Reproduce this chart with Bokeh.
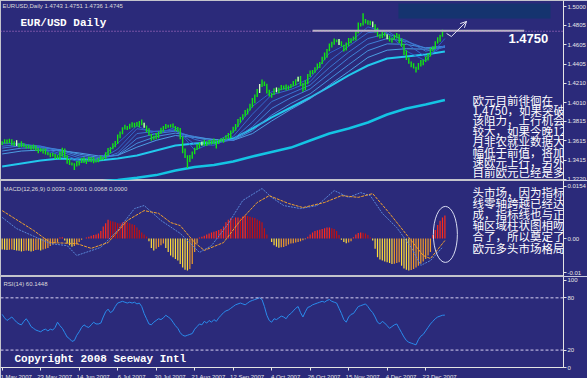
from bokeh.plotting import figure
from bokeh.layouts import column
from bokeh.models import Range1d, FixedTicker, LinearAxis, Label, Span, Arrow, OpenHead
from bokeh.embed import file_html
from bokeh.resources import INLINE

# ---------------- data ----------------
date_ticks = [0, 16, 32, 48, 64, 80, 96, 112, 128, 144, 160, 176]
date_labels = ["1 May 2007", "23 May 2007", "14 Jun 2007", "6 Jul 2007", "30 Jul 2007",
               "21 Aug 2007", "12 Sep 2007", "4 Oct 2007", "26 Oct 2007", "15 Nov 2007",
               "4 Dec 2007", "23 Dec 2007"]

high = [1.3612,1.3632,1.3628,1.3637,1.3631,1.3612,1.3620,1.3591,1.3610,1.3591,
        1.3574,1.3574,1.3569,1.3578,1.3566,1.3542,1.3540,1.3536,1.3535,1.3501,
        1.3489,1.3492,1.3479,1.3468,1.3506,1.3545,1.3536,1.3466,1.3430,1.3392,
        1.3384,1.3407,1.3409,1.3438,1.3446,1.3424,1.3450,1.3446,1.3445,1.3423,
        1.3439,1.3462,1.3452,1.3498,1.3542,1.3552,1.3590,1.3614,1.3680,1.3711,
        1.3756,1.3782,1.3769,1.3791,1.3806,1.3802,1.3810,1.3820,1.3834,1.3801,
        1.3774,1.3744,1.3689,1.3668,1.3696,1.3712,1.3750,1.3769,1.3790,1.3781,
        1.3787,1.3795,1.3769,1.3758,1.3748,1.3662,1.3536,1.3466,1.3470,1.3506,
        1.3544,1.3582,1.3597,1.3606,1.3626,1.3612,1.3625,1.3621,1.3640,1.3621,
        1.3629,1.3641,1.3649,1.3673,1.3696,1.3722,1.3760,1.3789,1.3840,1.3861,
        1.3890,1.3932,1.3949,1.3997,1.4056,1.4092,1.4150,1.4202,1.4247,1.4228,
        1.4204,1.4142,1.4109,1.4158,1.4166,1.4162,1.4190,1.4186,1.4195,1.4186,
        1.4200,1.4232,1.4249,1.4276,1.4284,1.4212,1.4240,1.4305,1.4340,1.4346,
        1.4375,1.4412,1.4429,1.4482,1.4526,1.4562,1.4618,1.4636,1.4670,1.4661,
        1.4664,1.4642,1.4607,1.4628,1.4676,1.4672,1.4690,1.4756,1.4834,1.4831,
        1.4930,1.4872,1.4859,1.4853,1.4846,1.4816,1.4780,1.4717,1.4750,1.4731,
        1.4715,1.4702,1.4679,1.4708,1.4727,1.4713,1.4670,1.4614,1.4550,1.4475,
        1.4434,1.4414,1.4379,1.4418,1.4449,1.4452,1.4484,1.4516,1.4576,1.4591,
        1.4643,1.4682,1.4710,1.4761,1.4751]

low = [1.3573,1.3588,1.3586,1.3592,1.3571,1.3562,1.3563,1.3546,1.3552,1.3551,
       1.3535,1.3537,1.3523,1.3527,1.3511,1.3488,1.3504,1.3484,1.3475,1.3466,
       1.3447,1.3454,1.3426,1.3430,1.3424,1.3452,1.3438,1.3379,1.3366,1.3361,
       1.3315,1.3351,1.3361,1.3387,1.3386,1.3377,1.3400,1.3394,1.3385,1.3391,
       1.3395,1.3415,1.3416,1.3430,1.3461,1.3488,1.3528,1.3549,1.3583,1.3641,
       1.3683,1.3732,1.3726,1.3737,1.3754,1.3752,1.3763,1.3754,1.3775,1.3751,
       1.3705,1.3670,1.3615,1.3626,1.3631,1.3642,1.3688,1.3709,1.3738,1.3751,
       1.3753,1.3750,1.3716,1.3709,1.3631,1.3488,1.3438,1.3335,1.3397,1.3431,
       1.3478,1.3520,1.3536,1.3567,1.3561,1.3562,1.3578,1.3577,1.3583,1.3535,
       1.3583,1.3605,1.3595,1.3627,1.3636,1.3642,1.3698,1.3719,1.3758,1.3801,
       1.3833,1.3866,1.3886,1.3927,1.3960,1.4002,1.4068,1.4109,1.4171,1.4181,
       1.4103,1.4073,1.4059,1.4087,1.4115,1.4106,1.4138,1.4144,1.4135,1.4141,
       1.4158,1.4176,1.4186,1.4227,1.4181,1.4122,1.4138,1.4199,1.4274,1.4301,
       1.4318,1.4351,1.4366,1.4407,1.4445,1.4472,1.4538,1.4577,1.4605,1.4631,
       1.4603,1.4588,1.4536,1.4547,1.4591,1.4622,1.4648,1.4649,1.4725,1.4795,
       1.4803,1.4825,1.4811,1.4807,1.4785,1.4732,1.4689,1.4669,1.4675,1.4692,
       1.4663,1.4640,1.4626,1.4657,1.4671,1.4622,1.4586,1.4499,1.4449,1.4411,
       1.4375,1.4360,1.4320,1.4348,1.4381,1.4395,1.4428,1.4443,1.4485,1.4537,
       1.4563,1.4619,1.4636,1.4688,1.4736]

bars = list(range(len(high)))
white_bars = [6, 59, 83, 107, 114, 123, 140, 154, 160]

ma_idx = [0, 8, 16, 24, 32, 40, 48, 56, 64, 72, 80, 88, 96, 104, 112, 120, 128, 136, 144, 152, 160, 168, 176, 184]
ribbon_1 = [1.3595,1.3582,1.3528,1.3470,1.3395,1.3418,1.3590,1.3770,1.3680,1.3755,1.3520,1.3600,1.3700,1.3970,1.4120,1.4170,1.4260,1.4520,1.4620,1.4790,1.4730,1.4540,1.4440,1.4670]
ribbon_2 = [1.3585,1.3590,1.3545,1.3485,1.3415,1.3412,1.3530,1.3740,1.3710,1.3730,1.3580,1.3570,1.3660,1.3890,1.4090,1.4145,1.4225,1.4440,1.4590,1.4730,1.4750,1.4620,1.4480,1.4600]
ribbon_3 = [1.3560,1.3580,1.3560,1.3505,1.3440,1.3420,1.3490,1.3690,1.3715,1.3720,1.3630,1.3585,1.3630,1.3810,1.4020,1.4105,1.4190,1.4370,1.4530,1.4670,1.4720,1.4650,1.4540,1.4580]
ribbon_4 = [1.3540,1.3565,1.3560,1.3520,1.3460,1.3432,1.3470,1.3640,1.3690,1.3715,1.3650,1.3610,1.3620,1.3760,1.3950,1.4060,1.4150,1.4310,1.4470,1.4610,1.4670,1.4640,1.4570,1.4590]
ribbon_5 = [1.3510,1.3540,1.3545,1.3525,1.3478,1.3445,1.3465,1.3590,1.3660,1.3695,1.3660,1.3625,1.3620,1.3720,1.3880,1.4000,1.4100,1.4250,1.4400,1.4545,1.4615,1.4610,1.4575,1.4590]
ribbon_6 = [1.3480,1.3510,1.3520,1.3515,1.3490,1.3460,1.3465,1.3550,1.3620,1.3670,1.3650,1.3630,1.3620,1.3690,1.3820,1.3940,1.4050,1.4190,1.4330,1.4475,1.4550,1.4565,1.4560,1.4580]
ma_mid = [1.3351,1.3382,1.3412,1.3433,1.3423,1.3412,1.3433,1.3464,1.3516,1.3567,1.3588,1.3598,1.3639,1.3742,1.3856,1.3959,1.4062,1.4175,1.4289,1.4392,1.4464,1.4485,1.4505,1.4536]
ma_long = [1.3150,1.3160,1.3170,1.3178,1.3185,1.3195,1.3212,1.3235,1.3262,1.3309,1.3346,1.3366,1.3402,1.3454,1.3500,1.3546,1.3619,1.3691,1.3742,1.3804,1.3887,1.3949,1.3990,1.4036]

price_ticks = [1.5000, 1.4805, 1.4605, 1.4405, 1.4210, 1.4010, 1.3815, 1.3615, 1.3415, 1.3220]
price_tick_labels = ["1.5000", "1.4805", "1.4605", "1.4405", "1.4210", "1.4010", "1.3815", "1.3615", "1.3415", "1.3220"]
last_price = 1.4745
resist_level = 1.4750
resist_from, resist_to = 129, 217
arrow_x = [184.7, 186.7, 188.8, 193.0]
arrow_y = [1.4722, 1.4691, 1.4742, 1.4846]
box_left, box_right, box_top, box_bottom = 164.7, 227.9, 1.5031, 1.4876

macd_hist = [-0.0032,-0.0033,-0.0034,-0.0033,-0.0032,-0.0034,-0.0035,-0.0036,-0.0038,-0.0037,
             -0.0035,-0.0036,-0.0038,-0.0037,-0.0034,-0.0033,-0.0035,-0.0032,-0.0030,-0.0028,
             -0.0022,-0.0018,-0.0014,-0.0010,0.0003,0.0004,-0.0006,-0.0015,-0.0020,-0.0024,
             -0.0022,-0.0018,-0.0010,-0.0004,0.0000,0.0003,0.0005,0.0008,0.0010,0.0012,
             0.0015,0.0022,0.0035,0.0045,0.0055,0.0052,0.0050,0.0048,0.0045,0.0044,
             0.0047,0.0050,0.0048,0.0045,0.0042,0.0040,0.0032,0.0025,0.0018,0.0012,
             0.0006,-0.0008,-0.0028,-0.0035,-0.0030,-0.0025,-0.0020,-0.0015,-0.0028,-0.0040,
             -0.0050,-0.0055,-0.0060,-0.0065,-0.0075,-0.0085,-0.0092,-0.0094,-0.0090,-0.0075,
             -0.0040,-0.0015,0.0003,0.0005,0.0008,0.0012,0.0015,0.0018,0.0020,0.0022,
             0.0025,0.0028,0.0035,0.0048,0.0055,0.0060,0.0058,0.0062,0.0062,0.0060,
             0.0065,0.0068,0.0066,0.0064,0.0062,0.0060,0.0056,0.0052,0.0048,0.0030,
             0.0012,0.0000,-0.0010,-0.0020,-0.0024,-0.0027,-0.0026,-0.0025,-0.0022,-0.0018,
             -0.0015,-0.0014,-0.0012,-0.0010,-0.0008,-0.0005,-0.0002,0.0005,0.0012,0.0018,
             0.0022,0.0024,0.0026,0.0028,0.0030,0.0032,0.0032,0.0030,0.0028,0.0022,
             0.0010,-0.0004,-0.0010,-0.0014,-0.0012,-0.0008,0.0004,0.0012,0.0016,0.0018,
             0.0017,0.0015,0.0010,0.0003,-0.0006,-0.0030,-0.0055,-0.0062,-0.0065,-0.0068,
             -0.0070,-0.0072,-0.0075,-0.0074,-0.0072,-0.0070,-0.0080,-0.0088,-0.0092,-0.0094,
             -0.0093,-0.0090,-0.0085,-0.0080,-0.0074,-0.0068,-0.0060,-0.0050,-0.0040,0.0010,
             0.0025,0.0040,0.0052,0.0062,0.0068]

macd_idx = [0,6,20,27,31,41,48,55,59,66,74,82,87,94,100,108,112,117,124,131,138,144,149,153,158,164,170,174,178,183]
macd_main = [0.0062,0.0029,-0.0015,-0.0021,-0.0050,-0.0026,0.0024,0.0088,0.0097,0.0053,0.0015,-0.0041,-0.0021,0.0044,0.0112,0.0147,0.0121,0.0097,0.0088,0.0097,0.0141,0.0121,0.0135,0.0126,0.0074,0.0032,-0.0026,-0.0079,-0.0065,-0.0026]
signal_idx = [0,13,20,31,37,44,52,59,65,70,74,80,84,92,99,106,111,119,125,134,141,148,154,161,169,175,178,184]
macd_signal = [0.0082,0.0024,-0.0012,-0.0015,-0.0029,-0.0012,0.0053,0.0082,0.0074,0.0047,0.0038,-0.0012,-0.0035,-0.0012,0.0053,0.0106,0.0126,0.0103,0.0091,0.0106,0.0126,0.0121,0.0132,0.0074,0.0003,-0.0050,-0.0059,-0.0006]
macd_ticks = [0.0154, 0.0, -0.01]
macd_tick_labels = ["0.0154", "0.00", "-0.01"]
ellipse_x, ellipse_y = 184.2, 0.0012

rsi = [61,57,54,56,58,55,52,50,49,53,
       56,52,47,45,43,42,41,43,44,42,
       44,43,46,52,48,45,40,35,33,30,
       31,37,41,46,49,47,46,49,52,50,
       50,51,58,64,67,63,65,70,74,75,
       76,75,74,75,74,75,73,74,70,62,
       56,50,49,52,54,56,55,57,60,58,
       56,52,48,45,40,37,36,37,38,39,
       44,47,50,49,53,51,54,52,55,53,
       57,60,63,65,66,68,70,72,73,74,
       73,72,74,76,77,78,79,80,78,70,
       60,54,52,56,55,57,59,58,56,60,
       62,65,68,70,63,58,64,69,70,72,
       73,74,75,76,75,77,78,76,75,74,
       68,62,55,52,58,61,62,66,70,71,
       72,73,70,66,63,58,52,50,53,51,
       48,45,47,49,50,45,40,35,31,29,
       28,27,26,32,36,38,42,46,50,53,
       56,58,59,60,60.1448]
rsi_ticks = [100, 80, 20, 0]
rsi_tick_labels = ["100", "80", "20", "0"]
rsi_levels = [80, 20]

cn_lines_price = ["欧元目前徘徊在", "1.4750，如果突破", "该阻力，上行机会", "较大，如果今晚12",
                  "月非农就业数据大", "幅低于前值，将加", "速欧元上行，另外", "目前欧元已经是多"]
cn_lines_macd = ["头市场，因为指标", "线零轴跨越已经达", "成，指标线也与正",
                 "轴区域柱状图相吻", "合了，所以奠定了", "欧元多头市场格局"]

# ---------------- layout / style ----------------
BG = "#2b2a7a"
FRAME_W = 563
PRICE_H, MACD_H, RSI_H = 180, 96, 91
P_TOP = 1.5062
P_BOT = P_TOP - PRICE_H / 970.0
M_TOP, M_BOT = 58 / 3400.0, -38 / 3400.0
R_TOP, R_BOT = 104.5, 0.0
SMALL = "Liberation Sans"
MONO = "Liberation Mono"
CJK = "Noto Sans CJK SC"

xr = Range1d(-0.7, 233.3)


def make_fig(fh, yr, bottom=0, xloc=None):
    p = figure(frame_width=FRAME_W, frame_height=fh, x_range=xr, y_range=yr,
               x_axis_location=xloc, y_axis_location=None, toolbar_location=None,
               output_backend="svg", min_border_left=0, min_border_top=0,
               min_border_bottom=bottom, min_border_right=24)
    p.background_fill_color = BG
    p.border_fill_color = BG
    p.outline_line_color = "#c4c4cc"
    p.outline_line_width = 1
    p.grid.visible = False
    return p


def right_axis(p, ticks, labels):
    ax = LinearAxis(ticker=FixedTicker(ticks=ticks),
                    major_label_overrides=dict(zip(ticks, labels)))
    ax.axis_line_color = "#e4e4e4"
    ax.major_tick_line_color = "#e4e4e4"
    ax.major_tick_out = 3
    ax.major_tick_in = 0
    ax.minor_tick_out = 0
    ax.minor_tick_in = 0
    ax.major_label_text_font = SMALL
    ax.major_label_text_font_size = "6px"
    ax.major_label_text_color = "#e8e8e8"
    ax.major_label_standoff = 1
    p.add_layout(ax, "right")


def label(p, text, x_px, y, size, color, font, bold=False, **kw):
    p.add_layout(Label(x=x_px, y=y, x_units="screen", text=text,
                       text_font_size=f"{size}px", text_color=color, text_font=font,
                       text_font_style="bold" if bold else "normal",
                       text_baseline=kw.pop("baseline", "top"), **kw))


# ---------------- price panel ----------------
pp = make_fig(PRICE_H, Range1d(P_BOT, P_TOP))
right_axis(pp, price_ticks, price_tick_labels)
ppx = (P_TOP - P_BOT) / PRICE_H

pp.quad(left=[box_left], right=[box_right], top=[box_top], bottom=[box_bottom],
        fill_color="#15346f", line_color=None)
pp.add_layout(Span(location=last_price, dimension="width", line_color="#c07ad0",
                   line_dash="1 2", line_width=1))
pp.line(ma_idx, ma_long, line_color="#14c4e4", line_width=2.5)
pp.line(ma_idx, ma_mid, line_color="#22c8ec", line_width=2)
ribbon_colors = ["#2f5fc8", "#3468cc", "#3a74d0", "#3f80d6", "#4690dc", "#4c9ee2"]
for ser, col in zip([ribbon_6, ribbon_5, ribbon_4, ribbon_3, ribbon_2, ribbon_1], ribbon_colors[::-1]):
    pp.line(ma_idx, ser, line_color=col, line_width=1)
pp.segment(x0=bars, y0=low, x1=bars, y1=high, line_color="#12e612", line_width=1.4)
pp.segment(x0=white_bars, y0=[low[i] for i in white_bars], x1=white_bars,
           y1=[high[i] for i in white_bars], line_color="#ecf0dc", line_width=1.2)
pp.segment(x0=[resist_from], y0=[resist_level], x1=[resist_to], y1=[resist_level],
           line_color="#b8b8c4", line_width=2)
pp.line(arrow_x, arrow_y, line_color="#e4e4f0", line_width=1)
pp.add_layout(Arrow(end=OpenHead(size=6, line_color="#e4e4f0", line_width=1),
                    x_start=arrow_x[-2], y_start=arrow_y[-2], x_end=arrow_x[-1], y_end=arrow_y[-1],
                    line_color="#e4e4f0", line_width=1))
pp.add_layout(Label(x=564, y=last_price, x_units="screen", text="1.4745",
                    text_font=SMALL, text_font_size="6px", text_color="#101040",
                    text_baseline="middle", background_fill_color="#ffffff"))

label(pp, "EURUSD,Daily  1.4743 1.4751 1.4736 1.4745", 2, P_TOP - 2 * ppx, 6, "#dcdcdc", SMALL)
label(pp, "EUR/USD Daily", 20, P_TOP - 16 * ppx, 11, "#ffffff", MONO, bold=True)
label(pp, "1.4750", 508, P_TOP - 33 * ppx, 13, "#ffffff", SMALL, bold=True)
for k, line in enumerate(cn_lines_price):
    label(pp, line, 472, P_TOP - (91 + 10.4 * k) * ppx, 11.5, "#ffffff", CJK)

# ---------------- MACD panel ----------------
pm = make_fig(MACD_H, Range1d(M_BOT, M_TOP))
right_axis(pm, macd_ticks, macd_tick_labels)
mpx = (M_TOP - M_BOT) / MACD_H
hist_colors = []
for i, v in enumerate(macd_hist):
    prev = macd_hist[i - 1] if i else v
    if v >= 0:
        hist_colors.append("#ff2a1a" if v >= prev else "#c41010")
    else:
        hist_colors.append("#ffdc3a" if v <= prev else "#ee9a2a")
pm.vbar(x=bars, top=macd_hist, bottom=0, width=0.5, fill_color=hist_colors, line_color=None)
pm.line(macd_idx, macd_main, line_color="#5a88d8", line_width=1, line_dash="2 1")
pm.line(signal_idx, macd_signal, line_color="#f2a22e", line_width=1, line_dash="3 1")
pm.ellipse(x=[ellipse_x], y=[ellipse_y], width=24, height=56, width_units="screen",
           height_units="screen", fill_color=None, line_color="#d8dcf0", line_width=1)
label(pm, "MACD(12,26,9) 0.0033 -0.0001 0.0068 0.0000", 3, M_TOP - 5 * mpx, 6, "#dcdcdc", SMALL)
for k, line in enumerate(cn_lines_macd):
    label(pm, line, 472, M_TOP - (3 + 11.2 * k) * mpx, 11.5, "#ffffff", CJK)

# ---------------- RSI panel ----------------
pr = make_fig(RSI_H, Range1d(R_BOT, R_TOP), bottom=11, xloc="below")
right_axis(pr, rsi_ticks, rsi_tick_labels)
rpx = (R_TOP - R_BOT) / RSI_H
label_pos = [t + 5.8 for t in date_ticks]
ax = pr.xaxis[0]
ax.ticker = FixedTicker(ticks=label_pos, minor_ticks=date_ticks)
ax.major_label_overrides = dict(zip(label_pos, date_labels))
ax.axis_line_color = "#e4e4e4"
ax.major_tick_line_color = None
ax.major_tick_out = 0
ax.major_tick_in = 0
ax.minor_tick_line_color = "#e4e4e4"
ax.minor_tick_out = 3
ax.minor_tick_in = 0
ax.major_label_standoff = 3
ax.major_label_text_font = SMALL
ax.major_label_text_font_size = "6px"
ax.major_label_text_color = "#e8e8e8"
for lv in rsi_levels:
    pr.add_layout(Span(location=lv, dimension="width", line_color="#d6d0f0",
                       line_dash="3 2", line_width=1))
pr.line(bars, rsi, line_color="#2a8cec", line_width=1)
label(pr, "RSI(14) 60.1448", 3, R_TOP - 4 * rpx, 6, "#dcdcdc", SMALL)
label(pr, "Copyright 2008 Seeway Intl", 14, R_TOP - 76 * rpx, 11, "#ffffff", MONO, bold=True)

layout = column(pp, pm, pr, spacing=0)
open("out.html", "w").write(file_html(layout, INLINE))
